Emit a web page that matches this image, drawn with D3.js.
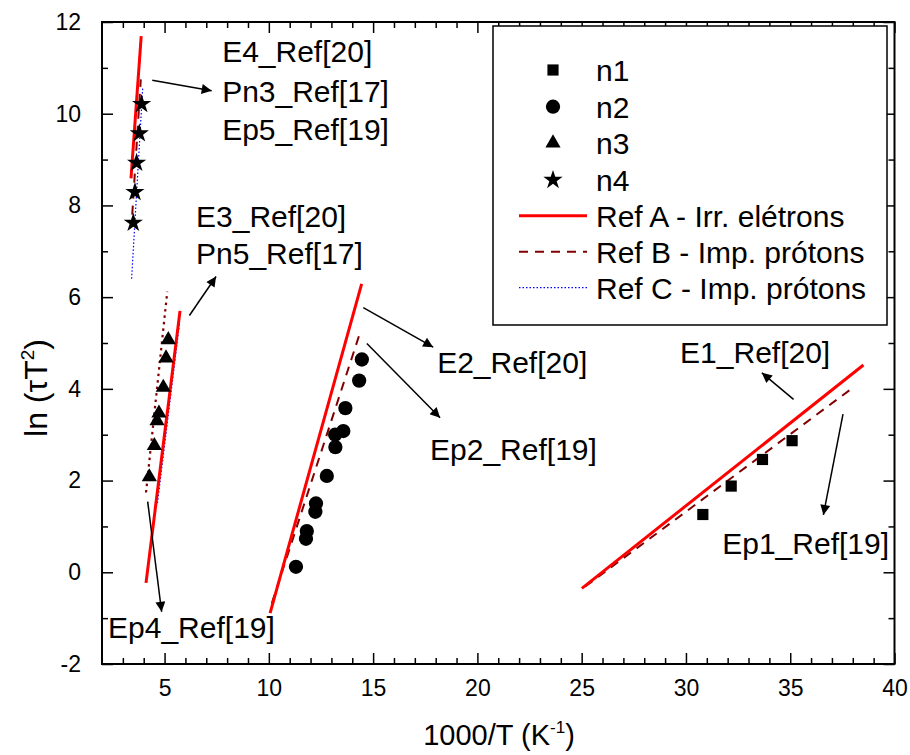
<!DOCTYPE html>
<html>
<head>
<meta charset="utf-8">
<script src="https://cdn.jsdelivr.net/npm/d3@7"></script>
<style>
  html, body { margin: 0; padding: 0; background: #fff; }
  svg { display: block; font-family: Arial, "Liberation Sans", sans-serif; }
</style>
</head>
<body>
<svg id="chart" width="910" height="755"></svg>
<script>
// ---------------- data ----------------
const xMajorTicks = [5, 10, 15, 20, 25, 30, 35, 40];
const yMajorTicks = [-2, 0, 2, 4, 6, 8, 10, 12];

// measured points [1000/T, ln(tau T^2)]
const n1 = [[30.81, 1.26], [32.17, 1.88], [33.67, 2.46], [35.09, 2.87]];
const n2 = [[14.46, 4.64], [14.33, 4.18], [13.67, 3.58], [13.57, 3.08], [13.18, 3.00], [13.19, 2.73],
            [12.78, 2.10], [12.26, 1.50], [12.23, 1.32], [11.82, 0.90], [11.78, 0.73], [11.30, 0.12]];
const n3 = [[5.18, 5.07], [5.07, 4.67], [4.94, 4.03], [4.73, 3.47], [4.64, 3.30], [4.51, 2.76], [4.27, 2.08]];
const n4 = [[3.90, 10.21], [3.79, 9.57], [3.66, 8.93], [3.58, 8.29], [3.50, 7.62]];

// reference lines (end points)
const refA = [
  [[3.39, 8.59], [3.88, 11.69]],
  [[4.11, -0.23], [5.74, 5.70]],
  [[10.06, -0.89], [14.45, 6.29]],
  [[25.01, -0.35], [38.51, 4.52]]
];
const refB = [
  [[3.45, 7.80], [3.86, 10.75]],
  [[10.14, -0.68], [14.37, 5.22]],
  [[25.17, -0.31], [37.96, 4.01]]
];
const refBdotted = [
  [[4.11, 1.74], [5.13, 6.12]]
];
const refC = [
  [[3.42, 6.40], [3.95, 10.55]],
  [[4.66, 1.51], [5.72, 5.44]]
];

// annotations: label, x, y (data units, left / middle)
const annotLabels = ["E4_Ref[20]", "Pn3_Ref[17]", "Ep5_Ref[19]", "E3_Ref[20]", "Pn5_Ref[17]",
                     "E2_Ref[20]", "Ep2_Ref[19]", "E1_Ref[20]", "Ep1_Ref[19]", "Ep4_Ref[19]"];
const annotX = [7.76, 7.76, 7.76, 6.51, 6.51, 18.07, 17.73, 29.72, 31.74, 2.29];
const annotY = [11.37, 10.49, 9.66, 7.77, 6.96, 4.59, 2.69, 4.80, 0.64, -1.19];
// arrows: [from, to]
const arrows = [
  [[4.41, 10.73], [7.26, 10.50]],
  [[6.19, 5.60], [7.47, 6.45]],
  [[14.53, 5.77], [17.88, 4.91]],
  [[14.70, 4.99], [18.21, 3.37]],
  [[35.16, 3.77], [33.64, 4.35]],
  [[37.53, 3.45], [36.59, 1.25]],
  [[4.19, 1.54], [4.86, -0.86]]
];

const legendLabels = ["n1", "n2", "n3", "n4", "Ref A - Irr. elétrons", "Ref B - Imp. prótons", "Ref C - Imp. prótons"];

// ---------------- chart ----------------
const svg = d3.select("#chart");
const L = 102, R = 894.5, T = 22, B = 664;
const x = d3.scaleLinear().domain([2, 40]).range([L, R]);
const y = d3.scaleLinear().domain([-2, 12]).range([B, T]);

const red = "#ff0000", brown = "#800000", blue = "#0000ff";
const font = "Arial, 'Liberation Sans', sans-serif";

svg.append("defs").append("marker")
  .attr("id", "arrow").attr("viewBox", "0 0 10 10")
  .attr("refX", 10).attr("refY", 5)
  .attr("markerWidth", 14).attr("markerHeight", 10)
  .attr("markerUnits", "userSpaceOnUse")
  .attr("orient", "auto")
  .append("path").attr("d", "M0,0 L10,5 L0,10 Z").attr("fill", "#000");

// axes
const minorX = d3.range(3, 40).filter(v => v % 5 !== 0);
const minorY = d3.range(-1, 12, 2);
function styleAxis(g) {
  g.select(".domain").remove();
  g.selectAll("line").attr("stroke", "#000").attr("stroke-width", 1.5);
  g.selectAll("text").attr("font-size", 23).attr("fill", "#000").attr("font-family", font);
}
const fmt = d => String(d);
svg.append("g").attr("transform", `translate(0,${B})`)
  .call(d3.axisBottom(x).tickValues(xMajorTicks).tickSize(-11).tickPadding(16).tickFormat(fmt)).call(styleAxis);
svg.append("g").attr("transform", `translate(0,${B})`)
  .call(d3.axisBottom(x).tickValues(minorX).tickSize(-6).tickFormat("")).call(styleAxis);
svg.append("g").attr("transform", `translate(0,${T})`)
  .call(d3.axisTop(x).tickValues(xMajorTicks).tickSize(-11).tickFormat("")).call(styleAxis);
svg.append("g").attr("transform", `translate(0,${T})`)
  .call(d3.axisTop(x).tickValues(minorX).tickSize(-6).tickFormat("")).call(styleAxis);
svg.append("g").attr("transform", `translate(${L},0)`)
  .call(d3.axisLeft(y).tickValues(yMajorTicks).tickSize(-11).tickPadding(21).tickFormat(fmt)).call(styleAxis);
svg.append("g").attr("transform", `translate(${L},0)`)
  .call(d3.axisLeft(y).tickValues(minorY).tickSize(-6).tickFormat("")).call(styleAxis);
svg.append("g").attr("transform", `translate(${R},0)`)
  .call(d3.axisRight(y).tickValues(yMajorTicks).tickSize(-11).tickFormat("")).call(styleAxis);
svg.append("g").attr("transform", `translate(${R},0)`)
  .call(d3.axisRight(y).tickValues(minorY).tickSize(-6).tickFormat("")).call(styleAxis);

svg.append("rect").attr("x", L).attr("y", T).attr("width", R - L).attr("height", B - T)
  .attr("fill", "none").attr("stroke", "#000").attr("stroke-width", 2);

// axis titles
svg.append("text").attr("x", 499).attr("y", 745).attr("text-anchor", "middle")
  .attr("font-size", 29).attr("font-family", font).attr("fill", "#000")
  .html('1000/T (K<tspan font-size="17" dy="-12">-1</tspan><tspan dy="12">)</tspan>');
svg.append("text").attr("transform", "translate(47,388) rotate(-90)").attr("text-anchor", "middle")
  .attr("font-size", 32).attr("font-family", font).attr("fill", "#000")
  .html('ln (τT<tspan font-size="19" dy="-13">2</tspan><tspan dy="13">)</tspan>');

// lines
const line = d3.line().x(d => x(d[0])).y(d => y(d[1]));
const gLines = svg.append("g");
gLines.selectAll(".refC").data(refC).join("path")
  .attr("d", line).attr("fill", "none").attr("stroke", blue).attr("stroke-width", 1.2).attr("stroke-dasharray", "1.5,2");
gLines.selectAll(".refBd").data(refBdotted).join("path")
  .attr("d", line).attr("fill", "none").attr("stroke", brown).attr("stroke-width", 2.2).attr("stroke-dasharray", "2.5,4");
gLines.selectAll(".refB").data(refB).join("path")
  .attr("d", line).attr("fill", "none").attr("stroke", brown).attr("stroke-width", 2).attr("stroke-dasharray", "9,7");
gLines.selectAll(".refA").data(refA).join("path")
  .attr("d", line).attr("fill", "none").attr("stroke", red).attr("stroke-width", 3);

// markers
const sym = {
  n1: d3.symbol().type(d3.symbolSquare).size(125),
  n2: d3.symbol().type(d3.symbolCircle).size(160),
  n3: d3.symbol().type(d3.symbolTriangle).size(100),
  n4: d3.symbol().type(d3.symbolStar).size(115)
};
const series = [["n1", n1], ["n2", n2], ["n3", n3], ["n4", n4]];
series.forEach(([k, data]) => {
  svg.append("g").selectAll("path").data(data).join("path")
    .attr("transform", d => `translate(${x(d[0])},${y(d[1])})`)
    .attr("d", sym[k]()).attr("fill", "#000");
});

// arrows
svg.append("g").selectAll("line").data(arrows).join("line")
  .attr("x1", d => x(d[0][0])).attr("y1", d => y(d[0][1]))
  .attr("x2", d => x(d[1][0])).attr("y2", d => y(d[1][1]))
  .attr("stroke", "#000").attr("stroke-width", 1.5).attr("marker-end", "url(#arrow)");

// annotation texts
svg.append("g").selectAll("text").data(annotLabels).join("text")
  .attr("x", (d, i) => x(annotX[i])).attr("y", (d, i) => y(annotY[i]))
  .attr("dy", "0.36em").attr("font-size", 30).attr("fill", "#000").text(d => d);

// legend
const lg = svg.append("g");
lg.append("rect").attr("x", 493).attr("y", 26).attr("width", 394).attr("height", 299)
  .attr("fill", "#fff").attr("stroke", "#000").attr("stroke-width", 1.5);
const rowY = [70, 106.7, 143, 180, 215.7, 251.7, 287.7];
const symKeys = ["n1", "n2", "n3", "n4"];
legendLabels.forEach((lab, i) => {
  if (i < 4) {
    lg.append("path").attr("transform", `translate(553,${rowY[i]})`).attr("d", sym[symKeys[i]]()).attr("fill", "#000");
  } else {
    const st = [
      {c: red, w: 3, da: null},
      {c: brown, w: 2, da: "9,7"},
      {c: blue, w: 1.2, da: "1.5,2"}
    ][i - 4];
    lg.append("line").attr("x1", 519).attr("x2", 587).attr("y1", rowY[i]).attr("y2", rowY[i])
      .attr("stroke", st.c).attr("stroke-width", st.w).attr("stroke-dasharray", st.da);
  }
  lg.append("text").attr("x", 596).attr("y", rowY[i]).attr("dy", "0.36em")
    .attr("font-size", 30).attr("fill", "#000").text(lab);
});
</script>
</body>
</html>
